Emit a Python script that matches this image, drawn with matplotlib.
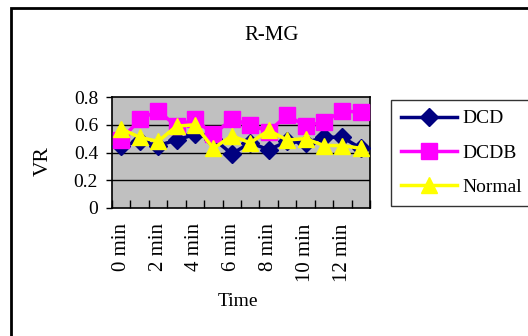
import numpy as np
import matplotlib
matplotlib.use('Agg')
import matplotlib.pyplot as plt
from matplotlib.patches import Rectangle

plt.rcParams['font.family'] = ['Liberation Serif', 'DejaVu Serif']

# data
minutes = list(range(14))
tick_labels = [f'{m} min' for m in minutes[::2]]
dcd = [0.45, 0.48, 0.45, 0.49, 0.53, 0.50, 0.39, 0.47, 0.42, 0.48, 0.47, 0.51, 0.51, 0.43]
dcdb = [0.49, 0.64, 0.70, 0.59, 0.64, 0.53, 0.64, 0.60, 0.55, 0.67, 0.59, 0.62, 0.70, 0.69]
normal = [0.57, 0.51, 0.48, 0.59, 0.60, 0.43, 0.52, 0.47, 0.56, 0.49, 0.50, 0.45, 0.45, 0.43]

fig = plt.figure(figsize=(5.28, 3.36), dpi=100)
ax = fig.add_axes([112 / 528, 1 - 208 / 336, 258 / 528, 111 / 336])
ax.set_facecolor('#C0C0C0')

x = np.arange(len(minutes))
ax.plot(x, dcd, color='#000080', lw=2.5, marker='D', ms=9, label='DCD', zorder=3)
ax.plot(x, dcdb, color='#FF00FF', lw=2.5, marker='s', ms=11, label='DCDB', zorder=4)
ax.plot(x, normal, color='#FFFF00', lw=2.5, marker='^', ms=12, label='Normal', zorder=5)

ax.set_xlim(-0.5, len(minutes) - 0.5)
ax.set_ylim(0, 0.8)
ax.set_yticks([0, 0.2, 0.4, 0.6, 0.8])
ax.set_yticklabels(['0', '0.2', '0.4', '0.6', '0.8'])
for g in [0.2, 0.4, 0.6]:
    ax.axhline(g, color='black', lw=1, zorder=1)

ax.set_xticks(x[::2])
ax.set_xticklabels(tick_labels, rotation=90)
ax.set_xticks(np.arange(-0.5, len(minutes), 1), minor=True)
ax.tick_params(axis='x', which='major', length=0, pad=11, labelsize=15)
ax.tick_params(axis='x', which='minor', direction='in', length=6, width=1)
ax.tick_params(axis='y', length=4, width=1, labelsize=14, pad=6)
for s in ax.spines.values():
    s.set_color('black')
    s.set_linewidth(1.2)

fig.text(272 / 528, 1 - 36 / 336, 'R-MG', ha='center', va='center', fontsize=15)
fig.text(238 / 528, 1 - 302 / 336, 'Time', ha='center', va='center', fontsize=14)
fig.text(43 / 528, 1 - 161 / 336, 'VR', ha='center', va='center', rotation=90, fontsize=15.5)

leg = fig.legend(loc='center left', bbox_to_anchor=(391 / 528, 1 - 153 / 336),
                 fontsize=14, frameon=True, fancybox=False, handlelength=2.9,
                 borderaxespad=0, borderpad=0.5, labelspacing=0.86, handletextpad=0.25)
leg.get_frame().set_edgecolor('black')
leg.get_frame().set_linewidth(1)

# outer chart frame
fig.patches.append(Rectangle((11 / 528, -0.05), 1.1, 1 - 8 / 336 + 0.05,
                             transform=fig.transFigure, fill=False,
                             edgecolor='black', lw=2))

fig.savefig('out.png', dpi=100)
